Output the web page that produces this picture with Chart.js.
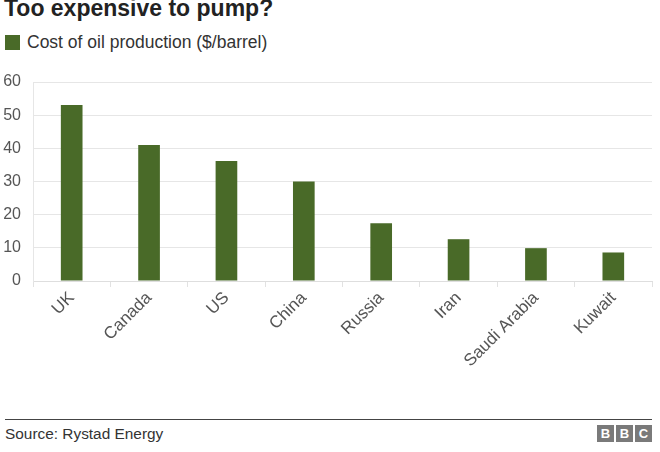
<!DOCTYPE html>
<html>
<head>
<meta charset="utf-8">
<script src="https://cdn.jsdelivr.net/npm/chart.js@4/dist/chart.umd.min.js"></script>
<style>
  html, body { margin: 0; padding: 0; background: #fff; }
  body { width: 660px; height: 452px; position: relative; overflow: hidden; font-family: Arial, "Liberation Sans", sans-serif; }
  .title { position: absolute; left: 4px; top: -5px; font-size: 23px; font-weight: bold; color: #222; }
  .legend { position: absolute; left: 5px; top: 32px; font-size: 17.5px; color: #333; display: flex; align-items: center; }
  .legend i { display: inline-block; width: 15px; height: 15px; background: #496a28; margin-right: 7px; }
  .wrap { position: absolute; left: 0; top: 60px; width: 660px; height: 340px; }
  .rule { position: absolute; left: 5px; top: 419px; width: 647px; height: 1px; background: #444; }
  .source { position: absolute; left: 5px; top: 425px; font-size: 15.4px; color: #333; }
  .bbc { position: absolute; left: 597px; top: 425px; display: flex; gap: 2px; }
  .bbc span { width: 17px; height: 17px; background: #7a7a7a; color: #fff; font-size: 13px; font-weight: bold; text-align: center; line-height: 17px; }
</style>
</head>
<body>
<div class="title">Too expensive to pump?</div>
<div class="legend"><i></i>Cost of oil production ($/barrel)</div>
<div class="wrap"><canvas id="chart" width="660" height="340"></canvas></div>
<div class="rule"></div>
<div class="source">Source: Rystad Energy</div>
<div class="bbc"><span>B</span><span>B</span><span>C</span></div>
<script>
const countries = ['UK', 'Canada', 'US', 'China', 'Russia', 'Iran', 'Saudi Arabia', 'Kuwait'];
const costPerBarrel = [53.1, 41, 36.2, 30, 17.4, 12.6, 9.9, 8.6];
const yTicks = [0, 10, 20, 30, 40, 50, 60];

const fontFamily = 'Arial, "Liberation Sans", sans-serif';

new Chart(document.getElementById('chart'), {
  type: 'bar',
  data: {
    labels: countries,
    datasets: [{
      label: 'Cost of oil production ($/barrel)',
      data: costPerBarrel,
      backgroundColor: '#496a28',
      barPercentage: 0.28,
      categoryPercentage: 1,
    }],
  },
  options: {
    responsive: false,
    animation: false,
    layout: { padding: { top: 22, right: 8, bottom: 0, left: 0 } },
    plugins: { legend: { display: false }, tooltip: { enabled: false } },
    scales: {
      x: {
        grid: { drawOnChartArea: false, drawTicks: true, tickLength: 6, color: '#e2e2e2', offset: true },
        border: { color: '#dedede' },
        ticks: { color: '#555', font: { family: fontFamily, size: 17 }, minRotation: 45, maxRotation: 45, padding: 1 },
        afterFit: (s) => { s.height = 119; },
      },
      y: {
        min: 0,
        max: 60,
        afterBuildTicks: (s) => { s.ticks = yTicks.map((v) => ({ value: v })); },
        grid: { color: '#e6e6e6', drawTicks: false },
        border: { color: '#e6e6e6' },
        ticks: { color: '#555', font: { family: fontFamily, size: 16 }, padding: 12 },
        afterFit: (s) => { s.width = 33; },
      },
    },
  },
});
</script>
</body>
</html>
